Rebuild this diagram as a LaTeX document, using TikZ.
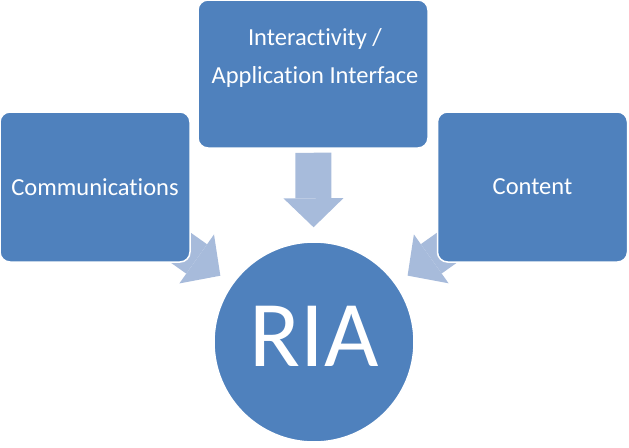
\documentclass[tikz,border=0pt]{standalone}
\usepackage{fontspec}
\setmainfont[Ligatures={NoCommon}]{Carlito}
\usepackage{xcolor}
\usetikzlibrary{arrows.meta, backgrounds}

\definecolor{riablue}{RGB}{79,129,189}
\definecolor{feedblue}{RGB}{167,187,219}

\begin{document}
\begin{tikzpicture}[x=1pt, y=-1pt,
    box/.style={draw=white, line width=1.5pt, fill=riablue, rounded corners=10pt,
                minimum width=190pt, minimum height=150pt, inner sep=0pt,
                text=white, font=\fontsize{24.5}{38}\selectfont, align=center},
    hub/.style={draw=white, line width=1.5pt, circle, fill=riablue,
                minimum size=200pt, inner sep=0pt, text=white,
                font=\fontsize{94}{100}\selectfont, text depth=11pt},
    feed/.style={feedblue, line width=36pt, shorten >=14pt,
                 -{Triangle[length=29pt, width=60pt, line width=0pt]}},
  ]
  \useasboundingbox (0,0) rectangle (629,447);

  % three sources
  \node[box]                          (comm)  at (95,187)   {Communications};
  \node[box, minimum width=230pt,
        minimum height=148pt]         (inter) at (313,74)   {};
  \node[text=white, align=center,
        font=\fontsize{24.5}{38}\selectfont] (intertxt) at (315,57.5)
    {Interactivity /\\Application Interface};
  \node[box]                          (cont)  at (532.5,187) {Content};

  % centre
  \node[hub] (ria) at (314,342) {RIA};

  % arrows behind the boxes
  \begin{scope}[on background layer]
    \draw[feed] (comm.center) -- (ria);
    \draw[feed, shorten <=4pt] (inter) -- (ria);
    \draw[feed] (cont.center) -- (ria);
  \end{scope}
\end{tikzpicture}
\end{document}
